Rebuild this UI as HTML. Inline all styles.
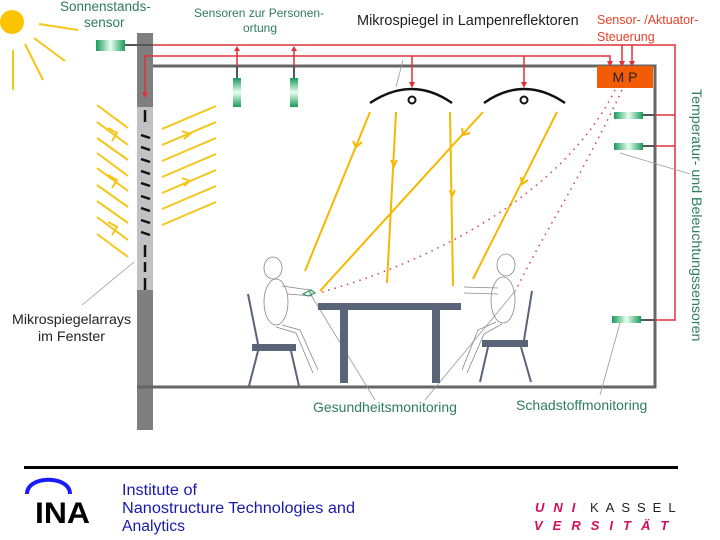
<!DOCTYPE html>
<html><head><meta charset="utf-8"><style>
html,body{margin:0;padding:0;background:#fff;}
svg{display:block;}
text{font-family:"Liberation Sans",sans-serif;}
</style></head><body>
<svg width="720" height="540" viewBox="0 0 720 540" xmlns="http://www.w3.org/2000/svg">
<defs>
<linearGradient id="gh" x1="0" x2="1" y1="0" y2="0"><stop offset="0" stop-color="#1a9a5a"/><stop offset="0.5" stop-color="#e8fff0"/><stop offset="1" stop-color="#1a9a5a"/></linearGradient>
<linearGradient id="gv" x1="0" x2="0" y1="0" y2="1"><stop offset="0" stop-color="#1a9a5a"/><stop offset="0.5" stop-color="#e8fff0"/><stop offset="1" stop-color="#1a9a5a"/></linearGradient>
</defs>
<circle cx="12" cy="22" r="12" fill="#fcc400"/>
<g stroke="#f5c518" stroke-width="2">
<line x1="39" y1="24" x2="78" y2="30"/>
<line x1="34" y1="38" x2="65" y2="61"/>
<line x1="25" y1="44" x2="43" y2="80"/>
<line x1="13" y1="50" x2="13" y2="90"/>
</g>
<g stroke="#f5c518" stroke-width="2" fill="none">
<line x1="97" y1="105" x2="128" y2="128"/>
<line x1="97" y1="122" x2="128" y2="145"/>
<line x1="97" y1="138" x2="128" y2="160"/>
<line x1="97" y1="153" x2="128" y2="176"/>
<line x1="97" y1="168" x2="128" y2="191"/>
<line x1="97" y1="185" x2="128" y2="207"/>
<line x1="97" y1="201" x2="128" y2="223"/>
<line x1="97" y1="217" x2="128" y2="240"/>
<line x1="97" y1="234" x2="128" y2="257"/>
<polyline points="108,128 117,133 112,141"/>
<polyline points="108,175 117,180 112,188"/>
<polyline points="108,222 117,227 112,235"/>
<line x1="162" y1="129" x2="216" y2="106"/>
<line x1="162" y1="145" x2="216" y2="122"/>
<line x1="162" y1="161" x2="216" y2="138"/>
<line x1="162" y1="177" x2="216" y2="154"/>
<line x1="162" y1="193" x2="216" y2="170"/>
<line x1="162" y1="209" x2="216" y2="186"/>
<line x1="162" y1="225" x2="216" y2="202"/>
<polyline points="182,131 190,134 184,139"/>
<polyline points="182,178 190,181 184,186"/>
</g>
<rect x="137" y="33" width="16" height="74" fill="#7f7f7f"/>
<rect x="137" y="107" width="16" height="183" fill="#c2c2c2"/>
<rect x="137" y="290" width="16" height="140" fill="#7f7f7f"/>
<g stroke="#111" stroke-width="2.5">
<line x1="145" y1="110" x2="145" y2="122"/>
<line x1="141" y1="135" x2="150" y2="138"/>
<line x1="141" y1="147" x2="150" y2="150"/>
<line x1="141" y1="159" x2="150" y2="162"/>
<line x1="141" y1="171" x2="150" y2="174"/>
<line x1="141" y1="183" x2="150" y2="186"/>
<line x1="141" y1="196" x2="150" y2="199"/>
<line x1="141" y1="208" x2="150" y2="211"/>
<line x1="141" y1="220" x2="150" y2="223"/>
<line x1="141" y1="232" x2="150" y2="235"/>
<line x1="145" y1="245" x2="145" y2="257"/>
<line x1="145" y1="262" x2="145" y2="272"/>
<line x1="145" y1="278" x2="145" y2="290"/>
</g>
<g stroke="#666" stroke-width="3" fill="none">
<polyline points="153,66 655,66 655,387 137,387"/>
</g>
<line x1="125" y1="45" x2="153" y2="45" stroke="#555" stroke-width="2"/>
<g stroke="#e0303a" stroke-width="1.5" fill="none">
<polyline points="153,45 675,45 675,320 641,320"/>
<line x1="643" y1="115" x2="675" y2="115"/>
<line x1="643" y1="146" x2="675" y2="146"/>
<polyline points="145,95 145,56 610,56 610,63"/>
<line x1="622" y1="45" x2="622" y2="63"/>
<line x1="632" y1="45" x2="632" y2="63"/>
<line x1="237" y1="49" x2="237" y2="66"/>
<line x1="294" y1="49" x2="294" y2="66"/>
<line x1="412" y1="56" x2="412" y2="84"/>
<line x1="524" y1="56" x2="524" y2="84"/>
</g>
<g fill="#e0303a">
<polygon points="142,92 148,92 145,98"/>
<polygon points="607,61 613,61 610,67"/>
<polygon points="619,61 625,61 622,67"/>
<polygon points="629,61 635,61 632,67"/>
<polygon points="234,51 240,51 237,46"/>
<polygon points="291,51 297,51 294,46"/>
<polygon points="409,82 415,82 412,88"/>
<polygon points="521,82 527,82 524,88"/>
</g>
<g stroke="#555" stroke-width="2">
<line x1="237" y1="66" x2="237" y2="78"/>
<line x1="294" y1="66" x2="294" y2="78"/>
<line x1="643" y1="115" x2="655" y2="115"/>
<line x1="643" y1="146" x2="655" y2="146"/>
<line x1="641" y1="320" x2="655" y2="320"/>
</g>
<rect x="96" y="40" width="29" height="11" fill="url(#gh)"/>
<rect x="233" y="78" width="8" height="29" fill="url(#gv)"/>
<rect x="290" y="78" width="8" height="29" fill="url(#gv)"/>
<rect x="614" y="112" width="29" height="7" fill="url(#gh)"/>
<rect x="614" y="143" width="29" height="7" fill="url(#gh)"/>
<rect x="612" y="316" width="29" height="7" fill="url(#gh)"/>
<rect x="597" y="66" width="56" height="22" fill="#f25c05"/>
<text x="625" y="82" font-size="14" text-anchor="middle" fill="#222">M P</text>
<g stroke="#111" stroke-width="2.5" fill="none">
<path d="M370,103 Q412,75 452,103"/>
<path d="M484,103 Q524,75 565,103"/>
</g>
<circle cx="412" cy="100" r="3.5" fill="none" stroke="#111" stroke-width="2"/>
<circle cx="524" cy="100" r="3.5" fill="none" stroke="#111" stroke-width="2"/>
<g stroke="#f5b800" stroke-width="2" fill="none">
<line x1="370" y1="112" x2="305" y2="271"/>
<line x1="396" y1="112" x2="387" y2="283"/>
<line x1="450" y1="112" x2="453" y2="286"/>
<line x1="483" y1="112" x2="320" y2="291"/>
<line x1="557" y1="112" x2="473" y2="279"/>
<polyline points="353,141 356,147 362,142"/>
<polyline points="391,160 394,166 397,160"/>
<polyline points="450,190 452,196 455,190"/>
<polyline points="462,128 463,135 470,133"/>
<polyline points="521,177 522,184 528,180"/>
</g>
<g stroke="#d04050" stroke-width="1.5" fill="none" stroke-dasharray="1.5,5">
<path d="M615,90 C560,200 420,265 322,292"/>
<path d="M622,90 C580,180 545,230 516,290"/>
</g>
<g stroke="#999" stroke-width="0.8" fill="none">
<line x1="403" y1="60" x2="396" y2="87"/>
<line x1="134" y1="262" x2="82" y2="305"/>
<line x1="620" y1="153" x2="690" y2="174"/>
<line x1="308" y1="290" x2="375" y2="400"/>
<line x1="516" y1="290" x2="425" y2="400"/>
<line x1="620" y1="323" x2="600" y2="395"/>
</g>
<g fill="#5a6478">
<rect x="318" y="303" width="143" height="7"/>
<rect x="340" y="310" width="8" height="73"/>
<rect x="432" y="310" width="8" height="73"/>
<rect x="252" y="344" width="44" height="7"/>
<rect x="482" y="340" width="46" height="7"/>
</g>
<g stroke="#5a6478" stroke-width="2" fill="none">
<line x1="248" y1="294" x2="258" y2="344"/>
<line x1="258" y1="351" x2="249" y2="386"/>
<line x1="291" y1="351" x2="299" y2="386"/>
<line x1="532" y1="291" x2="524" y2="340"/>
<line x1="488" y1="347" x2="480" y2="382"/>
<line x1="521" y1="347" x2="531" y2="382"/>
</g>
<g stroke="#888" stroke-width="0.8" fill="none">
<ellipse cx="273" cy="268" rx="9" ry="11"/>
<ellipse cx="276" cy="302" rx="12" ry="23"/>
<polyline points="282,286 310,290 312,296 288,294"/>
<polyline points="282,325 300,330 318,370"/>
<polyline points="276,327 296,333 313,373"/>
<ellipse cx="506" cy="265" rx="9" ry="11"/>
<ellipse cx="503" cy="300" rx="12" ry="23"/>
<polyline points="498,288 464,287"/>
<polyline points="498,294 464,293"/>
<polyline points="496,322 478,330 462,370"/>
<polyline points="502,324 484,334 467,373"/>
</g>
<path d="M303,294 l8,-4 l4,3 l-7,3z" fill="none" stroke="#2a9a5a" stroke-width="1.2"/>
<g fill="#2e7d5c" font-size="13.5">
<text x="60" y="11">Sonnenstands-</text>
<text x="84" y="27">sensor</text>
<text x="194" y="17" font-size="12">Sensoren zur Personen-</text>
<text x="243" y="32" font-size="12">ortung</text>
<text x="313" y="412" font-size="14">Gesundheitsmonitoring</text>
<text x="516" y="410" font-size="14">Schadstoffmonitoring</text>
<text transform="translate(692,89) rotate(90)" font-size="14.2">Temperatur- und Beleuchtungssensoren</text>
</g>
<text x="357" y="25" font-size="14.5" fill="#222">Mikrospiegel in Lampenreflektoren</text>
<text x="597" y="24" font-size="12.5" fill="#e8402a">Sensor- /Aktuator-</text>
<text x="597" y="41" font-size="12.5" fill="#e8402a">Steuerung</text>
<text x="12" y="324" font-size="14.2" fill="#222">Mikrospiegelarrays</text>
<text x="38" y="341" font-size="14.2" fill="#222">im Fenster</text>
<rect x="24" y="466" width="654" height="3" fill="#000"/>
<path d="M27,494 C27,475 70,475 70,494" fill="none" stroke="#1a1aff" stroke-width="4"/>
<text x="35" y="523" font-size="30" font-weight="bold" fill="#000" textLength="55" lengthAdjust="spacingAndGlyphs">INA</text>
<g fill="#1a1aaa" font-size="15.5">
<text x="122" y="495" textLength="75" lengthAdjust="spacingAndGlyphs">Institute of</text>
<text x="122" y="513" textLength="233" lengthAdjust="spacingAndGlyphs">Nanostructure Technologies and</text>
<text x="122" y="531" textLength="63" lengthAdjust="spacingAndGlyphs">Analytics</text>
</g>
<g font-size="13" font-weight="bold" font-style="italic" fill="#d0105a">
<text x="535" y="512" letter-spacing="9">UNI</text>
<text x="534" y="530" letter-spacing="10">VERSITÄT</text>
</g>
<text x="590" y="512" font-size="13" fill="#222" letter-spacing="7">KASSEL</text>
</svg>
</body></html>
